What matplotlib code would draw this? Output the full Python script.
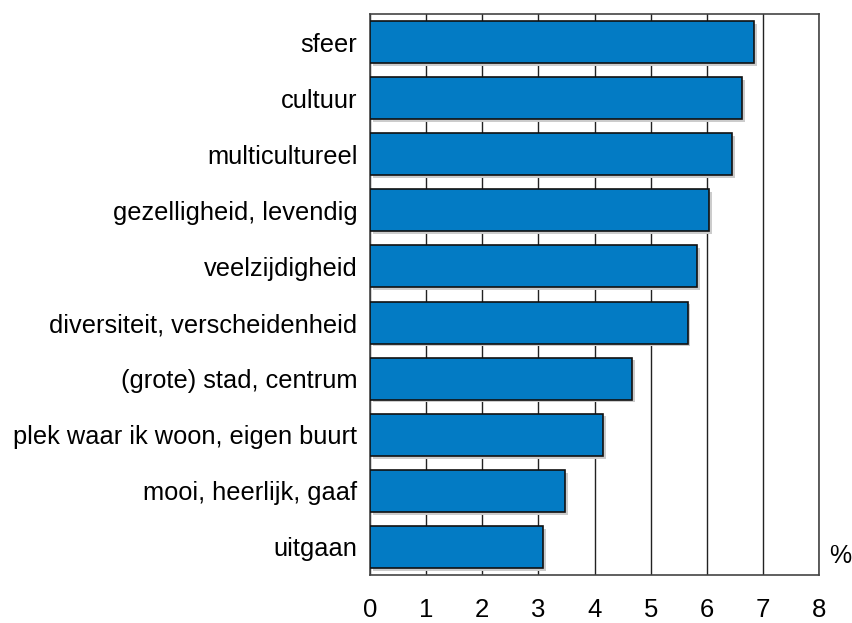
import matplotlib
matplotlib.use("Agg")
import matplotlib.pyplot as plt
import matplotlib.patheffects as pe
import numpy as np

categories = ['sfeer', 'cultuur', 'multicultureel', 'gezelligheid, levendig',
              'veelzijdigheid', 'diversiteit, verscheidenheid',
              '(grote) stad, centrum', 'plek waar ik woon, eigen buurt',
              'mooi, heerlijk, gaaf', 'uitgaan']
values = [6.85, 6.63, 6.45, 6.04, 5.83, 5.66, 4.67, 4.16, 3.48, 3.09]
xticks = [0, 1, 2, 3, 4, 5, 6, 7, 8]

plt.rcParams['font.family'] = ['Liberation Sans', 'DejaVu Sans']

fig = plt.figure(figsize=(8.52, 6.23), dpi=100)
ax = fig.add_axes([370 / 852, 48 / 623, 449 / 852, 561 / 623])

y = np.arange(len(categories))
bars = ax.barh(y, values, height=0.75, color='#037bc4', edgecolor='#111111',
               linewidth=1.2, zorder=3)
for b in bars:
    b.set_path_effects([pe.SimplePatchShadow(offset=(2, -2), shadow_rgbFace='#cccccc', alpha=1),
                        pe.Normal()])

ax.set_ylim(len(categories) - 0.5, -0.5)
ax.set_xlim(0, 8)
ax.set_xticks(xticks)
ax.set_xticklabels([str(t) for t in xticks], fontsize=18.5)
ax.set_yticks(y)
ax.set_yticklabels(categories, fontsize=18.3)
ax.tick_params(axis='x', length=0, pad=16.5)
ax.tick_params(axis='y', length=0, pad=9)
ax.xaxis.grid(True, color='#222222', linewidth=1.0, zorder=0)
ax.set_axisbelow(True)
for s in ax.spines.values():
    s.set_color('#444444')
    s.set_linewidth(1.2)

ax.text(1.047, 0.034, '%', transform=ax.transAxes, fontsize=18,
        ha='center', va='center')

fig.savefig('out.png', dpi=100)
